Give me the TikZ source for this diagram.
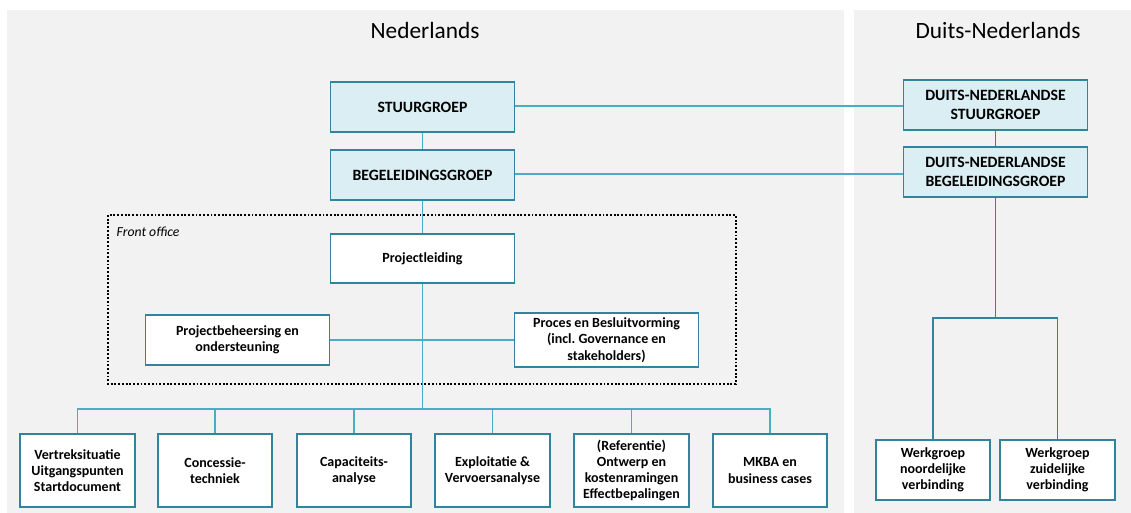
\documentclass[tikz,border=0pt]{standalone}
\usepackage{fontspec}
\setmainfont{Carlito}
\definecolor{grijs}{HTML}{F2F2F2}
\definecolor{lichtblauw}{HTML}{DAEEF3}
\definecolor{rand}{HTML}{31849B}
\definecolor{lijn}{HTML}{4BACC6}
\tikzset{
  hoofd/.style={draw=rand, line width=1.4pt, fill=lichtblauw, minimum width=138pt, minimum height=37pt,
    align=center, font=\bfseries\fontsize{11.8}{13.8}\selectfont},
  kader/.style={draw=rand, line width=1.4pt, fill=white, minimum width=138pt, minimum height=37pt,
    align=center, font=\bfseries\fontsize{10.5}{12.2}\selectfont},
  werk/.style={draw=rand, line width=1.4pt, fill=white, minimum width=86pt, minimum height=55pt,
    align=center, inner sep=1pt, font=\bfseries\fontsize{10.5}{12.2}\selectfont},
  verbind/.style={draw=lijn, line width=0.9pt},
  verbinddn/.style={draw=rand, line width=1.1pt}
}
\begin{document}
\begin{tikzpicture}[x=0.75pt, y=-0.75pt, line join=miter]
  \useasboundingbox (0,0) rectangle (1131,513);
  % Achtergrondvlakken
  \fill[grijs] (7,10) rectangle (844,513);
  \fill[grijs] (854,10) rectangle (1131,513);
  \node[font=\fontsize{17.5}{20}\selectfont] (titelnl) at (425,30) {Nederlands};
  \node[font=\fontsize{17.5}{20}\selectfont] (titeldn) at (998,30) {Duits-Nederlands};

  % Front office
  \draw[line width=1.4pt, dash pattern=on 1.4pt off 1.4pt] (108,215) rectangle (736,384);
  \node[anchor=west, font=\itshape\fontsize{10.3}{12}\selectfont] (fo) at (112,232) {Front office};

  % Coordinaten van de verdeellijnen
  \coordinate (bus) at (422.5,409);
  \coordinate (rbus) at (995.5,318);

  % Verbindingen (eerst, zodat de vakken erover liggen)
  \coordinate (stuurR) at (515,106);
  \coordinate (begelR) at (515,174);
  \draw[verbind] (422.5,107) -- (422.5,175);
  \draw[verbind] (422.5,175) -- (bus);
  \draw[verbind] (237.5,340) -- (606.5,340);
  \draw[verbind] (stuurR) -- (903,106);
  \draw[verbind] (begelR) -- (903,174);
  \draw[verbinddn] (995.5,105) -- (995.5,172);
  \draw[verbinddn] (995.5,172) -- (rbus);

  % Nederlandse vakken
  \node[hoofd] (stuur) at (422.5,107) {STUURGROEP};
  \node[hoofd] (begel) at (422.5,175) {BEGELEIDINGSGROEP};
  \node[kader] (proj) at (422.5,258.5) {Projectleiding};
  \node[kader] (beheer) at (237.5,340) {Projectbeheersing en\\ondersteuning};
  \node[kader] (proces) at (606.5,340) {Proces en Besluitvorming\\(incl.\ Governance en\\stakeholders)};

  % Duits-Nederlandse vakken
  \node[hoofd] (dnstuur) at (995.5,105) {DUITS-NEDERLANDSE\\STUURGROEP};
  \node[hoofd] (dnbegel) at (995.5,172) {DUITS-NEDERLANDSE\\BEGELEIDINGSGROEP};

  % Werkgroepen onderaan
  \foreach \i/\xpos/\tekst in {
      1/77.5/{Vertreksituatie\\Uitgangspunten\\Startdocument},
      2/215/{Concessie-\\techniek},
      3/354/{Capaciteits-\\analyse},
      4/492.5/{Exploitatie \&\\Vervoersanalyse},
      5/631.5/{(Referentie)\\Ontwerp en\\kostenramingen\\Effectbepalingen},
      6/770/{MKBA en\\business cases}} {
    \draw[verbind] (bus) -| (\xpos,433);
    \node[werk] (b\i) at (\xpos,470.5) {\tekst};
  }
  \foreach \i/\xpos/\tekst in {
      1/933/{Werkgroep\\noordelijke\\verbinding},
      2/1057.5/{Werkgroep\\zuidelijke\\verbinding}} {
    \draw[verbinddn] (rbus) -| (\xpos,440);
    \node[werk, minimum height=45pt] (w\i) at (\xpos,470) {\tekst};
  }
\end{tikzpicture}
\end{document}
